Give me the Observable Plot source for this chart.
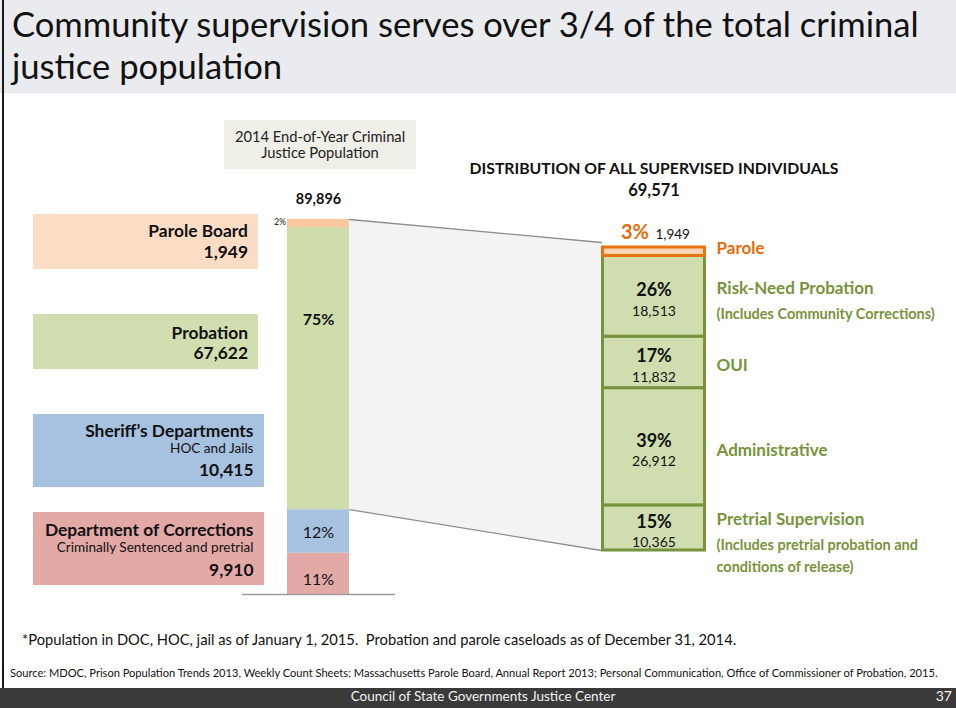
<!DOCTYPE html>
<html>
<head>
<meta charset="utf-8">
<script src="https://cdn.jsdelivr.net/npm/d3@7"></script>
<script src="https://cdn.jsdelivr.net/npm/@observablehq/plot@0.6"></script>
<style>
html, body { margin: 0; padding: 0; background: #fff; }
body { width: 956px; height: 708px; position: relative; overflow: hidden; font-family: Lato, "Open Sans", sans-serif; color: #111; }
.abs { position: absolute; }
.t { position: absolute; line-height: 1; white-space: pre; }
#chart svg { position: absolute; left: 0; top: 0; }
</style>
</head>
<body>
<div class="abs" style="left:0;top:0;width:956px;height:93px;background:#e9ebee;"></div>
<div class="abs" style="left:224px;top:120px;width:192px;height:49px;background:#efeee7;"></div>
<div class="abs" style="left:2px;top:0;width:2px;height:688px;background:#1a1a1a;"></div>
<div class="abs" style="left:0;top:688px;width:956px;height:20px;background:#3a3a3a;"></div>
<div id="boxes"></div>
<div id="chart" class="abs" style="left:0;top:0;width:956px;height:708px;"></div>
<div id="texts"></div>
<script>
// ---------------- DATA ----------------
const totalCategories = ["Department of Corrections", "Sheriff’s Departments", "Probation", "Parole Board"];
const totalSubtitles = ["Criminally Sentenced and pretrial", "HOC and Jails", "", ""];
const totalValues = [9910, 10415, 67622, 1949];
const totalPercentLabels = ["11%", "12%", "75%", "2%"];
const totalAll = 89896;

const supervisedCategories = ["Pretrial Supervision", "Administrative", "OUI", "Risk-Need Probation", "Parole"];
const supervisedNotes = ["(Includes pretrial probation and\nconditions of release)", "", "", "(Includes Community Corrections)", ""];
const supervisedValues = [10365, 26912, 11832, 18513, 1949];
const supervisedPercentLabels = ["15%", "39%", "17%", "26%", "3%"];
const supervisedTotal = 69571;

const titleText = "Community supervision serves over 3/4 of the total criminal\njustice population";
const leftHeading = ["2014 End-of-Year Criminal", "Justice Population"];
const rightHeading = "DISTRIBUTION OF ALL SUPERVISED INDIVIDUALS";
const footnote = "*Population in DOC, HOC, jail as of January 1, 2015.  Probation and parole caseloads as of December 31, 2014.";
const sourceNote = "Source: MDOC, Prison Population Trends 2013, Weekly Count Sheets; Massachusetts Parole Board, Annual Report 2013; Personal Communication, Office of Commissioner of Probation, 2015.";
const footerText = "Council of State Governments Justice Center";
const pageNumber = "37";

// ---------------- STYLE / LAYOUT ----------------
const FONT = "Lato, 'Open Sans', sans-serif";
const totalColors = ["#e3a9a7", "#a7c1e0", "#cfddad", "#fbc8a0"];
const boxColors = ["#e3a9a7", "#a7c1e0", "#d0deb0", "#fcdcc5"];
const supervisedFills = ["#d0deaf", "#d0deaf", "#d0deaf", "#d0deaf", "#fcd5b6"];
const green = "#77933c", orange = "#e46c0a";
const W = 956, H = 708;
const layout = {
  leftBar: [287, 349],
  rightBar: [601, 706],
  baseline: [242, 395],
  namesX: 716,
  leftRange: [594, 219],
  rightRange: [550, 247],
  boxes: [
    {x1: 33, x2: 264, top: 512, bottom: 585, right: 253.5, lines: [536, 553, 576]},
    {x1: 33, x2: 264, top: 414, bottom: 487, right: 253.5, lines: [437.7, 454, 476.7]},
    {x1: 33, x2: 258, top: 314, bottom: 369, right: 248, lines: [339, null, 359]},
    {x1: 33, x2: 258, top: 214, bottom: 269, right: 248, lines: [237.7, null, 258]}
  ],
  // pixel offsets from segment centre to label baseline, total bar
  totalLabelDy: [11.5, 7, -44, 1.5]
};
const fmt = d3.format(",");

function cumulate(values) {
  let s = 0;
  return values.map(v => { const a = s; s += v; return [a, s]; });
}
const yL = {domain: [0, totalAll], range: layout.leftRange};
const yR = {domain: [0, supervisedTotal], range: layout.rightRange};
const scaleL = Plot.scale({y: yL});
const scaleR = Plot.scale({y: yR});

const cumL = cumulate(totalValues);
const leftRows = totalCategories.map((c, i) => {
  const mid = (cumL[i][0] + cumL[i][1]) / 2;
  return {
    category: c, value: totalValues[i], pct: totalPercentLabels[i],
    y1: cumL[i][0], y2: cumL[i][1], mid,
    labelY: scaleL.invert(scaleL.apply(mid) + layout.totalLabelDy[i])
  };
});
const cumR = cumulate(supervisedValues);
const rightRows = supervisedCategories.map((c, i) => ({
  category: c, value: supervisedValues[i], pct: supervisedPercentLabels[i], note: supervisedNotes[i],
  y1: cumR[i][0], y2: cumR[i][1], mid: (cumR[i][0] + cumR[i][1]) / 2
}));
const supervisedRows = rightRows.filter(d => d.category !== "Parole");
const paroleRows = rightRows.filter(d => d.category === "Parole");

// funnel from the community-supervision part of the total bar to the supervised bar
const communityBase = cumL[1][1];
const funnel = [
  {x: layout.leftBar[1], lo: communityBase, hi: totalAll},
  {x: layout.rightBar[0], lo: scaleL.invert(scaleR.apply(0)), hi: scaleL.invert(scaleR.apply(supervisedTotal) - 5)}
];
const lbMid = (layout.leftBar[0] + layout.leftBar[1]) / 2;
const rbMid = (layout.rightBar[0] + layout.rightBar[1]) / 2;

const common = {
  width: W, height: H, margin: 0,
  x: {domain: [0, W], range: [0, W], axis: null},
  style: {background: "transparent", fontFamily: FONT, overflow: "visible", color: "#111"}
};

const plotL = Plot.plot({
  ...common,
  y: {...yL, axis: null},
  color: {domain: totalCategories, range: totalColors},
  marks: [
    Plot.areaY(funnel, {x: "x", y1: "lo", y2: "hi", fill: "#f3f3f3"}),
    Plot.line(funnel, {x: "x", y: "hi", stroke: "#8e8e8e", strokeWidth: 1.3}),
    Plot.line(funnel, {x: "x", y: "lo", stroke: "#8e8e8e", strokeWidth: 1.3}),
    Plot.rect(leftRows, {x1: () => layout.leftBar[0], x2: () => layout.leftBar[1], y1: "y1", y2: "y2", fill: "category"}),
    Plot.ruleY([0], {x1: () => layout.baseline[0], x2: () => layout.baseline[1], stroke: "#9c9c9c", strokeWidth: 1.3}),
    Plot.text([totalAll], {x: () => lbMid, y: d => d, text: d => fmt(d), lineAnchor: "bottom", dy: -16, fontSize: 14.5, fontWeight: "bold", fill: "#111"}),
    Plot.text(leftRows.filter(d => d.category === "Probation"), {x: () => lbMid, y: "labelY", text: "pct", lineAnchor: "bottom", fontSize: 16, fontWeight: "bold", fill: "#111"}),
    Plot.text(leftRows.filter(d => d.category === "Sheriff’s Departments" || d.category === "Department of Corrections"), {x: () => lbMid, y: "labelY", text: "pct", lineAnchor: "bottom", fontSize: 16, fill: "#111"}),
    Plot.text(leftRows.filter(d => d.category === "Parole Board"), {x: () => layout.leftBar[0] - 1.5, y: "labelY", text: "pct", textAnchor: "end", lineAnchor: "bottom", fontSize: 8.5, fill: "#111"})
  ]
});

const plotR = Plot.plot({
  ...common,
  y: {...yR, axis: null},
  color: {domain: supervisedCategories, range: supervisedFills},
  marks: [
    Plot.rect(supervisedRows, {x1: () => layout.rightBar[0] + 1.5, x2: () => layout.rightBar[1] - 1.5, y1: "y1", y2: "y2", fill: "category", stroke: green, strokeWidth: 3}),
    Plot.rect(paroleRows, {x1: () => layout.rightBar[0] + 1.5, x2: () => layout.rightBar[1] - 1.5, y1: "y1", y2: "y2", fill: "category", stroke: "#e8740e", strokeWidth: 3}),
    Plot.text(supervisedRows, {x: () => rbMid, y: "mid", text: "pct", lineAnchor: "bottom", dy: 0, fontSize: 18, fontWeight: "bold", fill: "#111"}),
    Plot.text(supervisedRows, {x: () => rbMid, y: "mid", text: d => fmt(d.value), lineAnchor: "bottom", dy: 19.5, fontSize: 14, fill: "#111"}),
    Plot.text(paroleRows, {x: () => rbMid, y: "y2", text: "pct", textAnchor: "end", lineAnchor: "bottom", dx: -5, dy: -8.5, fontSize: 20, fontWeight: "bold", fill: orange}),
    Plot.text(paroleRows, {x: () => rbMid, y: "y2", text: d => fmt(d.value), textAnchor: "start", lineAnchor: "bottom", dx: 1.5, dy: -8.5, fontSize: 13.5, fill: "#111"}),
    Plot.text(paroleRows, {x: () => layout.namesX, y: "mid", text: "category", textAnchor: "start", lineAnchor: "bottom", dy: 2.5, fontSize: 17, fontWeight: "bold", fill: orange}),
    Plot.text(supervisedRows.filter(d => d.note), {x: () => layout.namesX, y: "mid", text: "category", textAnchor: "start", lineAnchor: "bottom", dy: -2.5, fontSize: 17, fontWeight: "bold", fill: green}),
    Plot.text(supervisedRows.filter(d => !d.note), {x: () => layout.namesX, y: "mid", text: "category", textAnchor: "start", lineAnchor: "bottom", dy: 9, fontSize: 17, fontWeight: "bold", fill: green}),
    Plot.text(supervisedRows.filter(d => d.note), {x: () => layout.namesX, y: "mid", text: "note", textAnchor: "start", lineAnchor: "top", dy: 7, lineHeight: 1.5, fontSize: 14.5, fontWeight: "bold", fill: green}),
    Plot.text([supervisedTotal], {x: () => rbMid, y: d => d, text: () => rightHeading, lineAnchor: "bottom", dy: -73.7, fontSize: 15.8, fontWeight: "bold", fill: "#111"}),
    Plot.text([supervisedTotal], {x: () => rbMid, y: d => d, text: d => fmt(d), lineAnchor: "bottom", dy: -52, fontSize: 16.5, fontWeight: "bold", fill: "#111"})
  ]
});

const chart = document.getElementById("chart");
chart.appendChild(plotL);
chart.appendChild(plotR);

// ---------------- HTML annotations ----------------
const texts = document.getElementById("texts");
const ASC = 0.887; // baseline offset of Lato with line-height 1
function place(parent, str, x, baseline, size, opts = {}) {
  const d = document.createElement("div");
  d.className = "t";
  d.textContent = str;
  d.style.fontSize = size + "px";
  d.style.top = (baseline - ASC * size) + "px";
  d.style.fontWeight = opts.weight || "normal";
  d.style.color = opts.color || "#111";
  if (opts.anchor === "end") d.style.right = (W - x) + "px";
  else if (opts.anchor === "middle") { d.style.left = x + "px"; d.style.transform = "translateX(-50%)"; }
  else d.style.left = x + "px";
  parent.appendChild(d);
  return d;
}
const titleLines = titleText.split("\n");
place(texts, titleLines[0], 12, 38, 34.6, {color: "#111"});
place(texts, titleLines[1], 12, 80, 34.6, {color: "#111"});
place(texts, leftHeading[0], 320, 141.7, 14.7, {anchor: "middle", color: "#222"});
place(texts, leftHeading[1], 320, 158.3, 14.7, {anchor: "middle", color: "#222"});

const boxes = document.getElementById("boxes");
layout.boxes.forEach((b, i) => {
  const r = document.createElement("div");
  r.className = "abs";
  Object.assign(r.style, {left: b.x1 + "px", top: b.top + "px", width: (b.x2 - b.x1) + "px", height: (b.bottom - b.top) + "px", background: boxColors[i]});
  boxes.appendChild(r);
  place(texts, totalCategories[i], b.right, b.lines[0], 17.4, {anchor: "end", weight: "bold"});
  if (totalSubtitles[i]) place(texts, totalSubtitles[i], b.right, b.lines[1], 13.6, {anchor: "end"});
  place(texts, fmt(totalValues[i]), b.right, b.lines[2], 17.4, {anchor: "end", weight: "bold"});
});

place(texts, footnote, 22, 645, 14.7);
place(texts, sourceNote, 10, 676.5, 11.1);
place(texts, footerText, 483, 701.5, 13.5, {anchor: "middle", color: "#f2f2f2"});
place(texts, pageNumber, 952, 701.5, 14, {anchor: "end", color: "#f2f2f2"});
</script>
</body>
</html>
